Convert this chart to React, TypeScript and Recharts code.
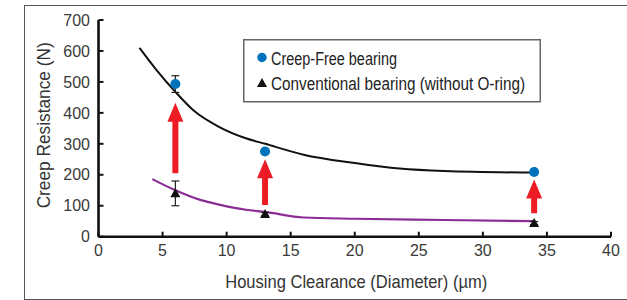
import React from 'react';
import { ComposedChart, Line, Scatter, XAxis, YAxis, ErrorBar, ReferenceLine, Legend, Label } from 'recharts';

// Measured points (x = housing clearance, µm; y = creep resistance, N)
const clearanceUm = [6, 13, 34];
const creepFreeN = [493, 275, 209];
const creepFreeErr = [27, 0, 0];
const conventionalN = [140, 73, 44];
const conventionalErr = [40, 5, 5];

// Fitted curves
const blackCurveX = [3.2, 4.5, 6, 7.5, 9.4, 11.5, 13, 16, 20, 23.5, 27, 34];
const blackCurveY = [610, 540, 468, 405, 355, 318, 300, 265, 238, 220, 212, 207];
const purpleCurveX = [4.2, 6, 8, 9.5, 11.5, 13, 16, 20, 27, 34];
const purpleCurveY = [186, 150, 118, 103, 87, 80, 62, 58, 54, 50];

// Red improvement arrows
const arrowX = [6, 13, 34];
const arrowFromN = [205, 102, 76];
const arrowToN = [433, 250, 185];

const xTicks = [0, 5, 10, 15, 20, 25, 30, 35, 40];
const yTicks = [0, 100, 200, 300, 400, 500, 600, 700];

const creepFreeData = clearanceUm.map((x, i) => ({ x, y: creepFreeN[i], err: creepFreeErr[i] }));
const conventionalData = clearanceUm.map((x, i) => ({ x, y: conventionalN[i], err: conventionalErr[i] }));
const blackCurve = blackCurveX.map((x, i) => ({ x, y: blackCurveY[i] }));
const purpleCurve = purpleCurveX.map((x, i) => ({ x, y: purpleCurveY[i] }));

const FONT = '"Liberation Sans", Arial, sans-serif';
const BLUE = '#0072BC';
const PURPLE = '#8C2D96';
const RED = '#ED1C24';

const Arrow = (props: any) => {
  const { x1, y1, x2, y2 } = props;
  const x = x1;
  const base = Math.max(y1, y2);
  const tip = Math.min(y1, y2);
  const headH = 19;
  const headW = 8;
  const shaftW = 3;
  const neck = tip + headH;
  return (
    <polygon
      points={`${x - shaftW},${base} ${x + shaftW},${base} ${x + shaftW},${neck} ${x + headW},${neck} ${x},${tip} ${x - headW},${neck} ${x - shaftW},${neck}`}
      fill={RED}
    />
  );
};

const Dot = (props: any) => {
  const { cx, cy } = props;
  return <circle cx={cx} cy={cy} r={5} fill={BLUE} />;
};

const Tri = (props: any) => {
  const { cx, cy } = props;
  return <polygon points={`${cx - 5},${cy + 4} ${cx + 5},${cy + 4} ${cx},${cy - 5}`} fill="#111" />;
};

const XTitle = (props: any) => {
  const vb = props.viewBox || { x: 98.5, y: 236.7, width: 512.5, height: 50 };
  const cx = vb.x + vb.width / 2 + 1.5;
  return (
    <text
      x={cx}
      y={vb.y + 51.6}
      textAnchor="middle"
      textLength={262}
      lengthAdjust="spacingAndGlyphs"
      fontFamily={FONT}
      fontSize={18.6}
      fill="#333"
    >
      Housing Clearance (Diameter) (µm)
    </text>
  );
};

const YTitle = (props: any) => {
  const vb = props.viewBox || { x: 38.5, y: 20, width: 60, height: 216.7 };
  const x = vb.x + 11.2;
  const y = vb.y + vb.height / 2 - 3;
  return (
    <text
      x={x}
      y={y}
      transform={`rotate(-90, ${x}, ${y})`}
      textAnchor="middle"
      textLength={166}
      lengthAdjust="spacingAndGlyphs"
      fontFamily={FONT}
      fontSize={17.5}
      fill="#333"
    >
      Creep Resistance (N)
    </text>
  );
};

const LegendBox = () => (
  <svg width={380} height={64} style={{ display: 'block', overflow: 'visible' }}>
    <rect x={0.75} y={0.75} width={296.5} height={62} fill="#fff" stroke="#666" strokeWidth={1.5} />
    <circle cx={19} cy={18.5} r={4.7} fill={BLUE} />
    <text x={28} y={25.5} fontFamily={FONT} fontSize={17.5} fill="#222" textLength={126} lengthAdjust="spacingAndGlyphs">
      Creep-Free bearing
    </text>
    <polygon points="14,48 24,48 19,39" fill="#111" />
    <text x={28} y={50.5} fontFamily={FONT} fontSize={17.5} fill="#222" textLength={254} lengthAdjust="spacingAndGlyphs">
      Conventional bearing (without O-ring)
    </text>
  </svg>
);

export default function App() {
  return (
    <div style={{ position: 'absolute', left: 0, top: 0, width: 627, height: 300, background: '#fff', overflow: 'hidden' }}>
      <div
        style={{
          position: 'absolute',
          left: 24,
          top: 5,
          width: 603,
          height: 295,
          boxSizing: 'border-box',
          borderLeft: '1.5px solid #555',
          borderTop: '1.5px solid #555',
          borderBottom: '1.5px solid #555',
        }}
      />
      <div style={{ position: 'absolute', left: 0, top: 0 }}>
        <ComposedChart width={627} height={300} margin={{ top: 20, right: 16, bottom: 13.3, left: 38.5 }}>
          <XAxis
            type="number"
            dataKey="x"
            domain={[0, 40]}
            ticks={xTicks}
            interval={0}
            axisLine={{ stroke: '#111', strokeWidth: 2.6 }}
            tickLine={{ stroke: '#111', strokeWidth: 2 }}
            tickSize={-5}
            tickMargin={12.6}
            tick={{ fill: '#3a3a3a', fontSize: 16, fontFamily: FONT }}
            height={50}
            allowDataOverflow
          >
            <Label content={XTitle} />
          </XAxis>
          <YAxis
            type="number"
            dataKey="y"
            domain={[0, 700]}
            ticks={yTicks}
            interval={0}
            axisLine={{ stroke: '#111', strokeWidth: 2.6 }}
            tickLine={{ stroke: '#111', strokeWidth: 2 }}
            tickSize={-5}
            tickMargin={13.5}
            tick={{ fill: '#3a3a3a', fontSize: 16, fontFamily: FONT }}
            width={60}
            allowDataOverflow
          >
            <Label content={YTitle} />
          </YAxis>
          <Legend
            layout="vertical"
            align="center"
            verticalAlign="middle"
            content={() => <LegendBox />}
            wrapperStyle={{ position: 'absolute', left: 243, top: 39, width: 380, height: 64 }}
          />
          <Line data={blackCurve} dataKey="y" type="monotone" stroke="#111" strokeWidth={2} dot={false} isAnimationActive={false} legendType="none" />
          <Line data={purpleCurve} dataKey="y" type="monotone" stroke={PURPLE} strokeWidth={2.2} dot={false} isAnimationActive={false} legendType="none" />
          {arrowX.map((x, i) => (
            <ReferenceLine
              key={`arrow-${i}`}
              segment={[{ x, y: arrowFromN[i] }, { x, y: arrowToN[i] }]}
              shape={Arrow}
            />
          ))}
          <Scatter data={conventionalData} dataKey="y" shape={Tri} isAnimationActive={false} name="Conventional bearing (without O-ring)">
            <ErrorBar dataKey="err" direction="y" width={4} stroke="#222" strokeWidth={1.2} />
          </Scatter>
          <Scatter data={creepFreeData} dataKey="y" shape={Dot} isAnimationActive={false} name="Creep-Free bearing">
            <ErrorBar dataKey="err" direction="y" width={4} stroke="#222" strokeWidth={1.2} />
          </Scatter>
        </ComposedChart>
      </div>
    </div>
  );
}
